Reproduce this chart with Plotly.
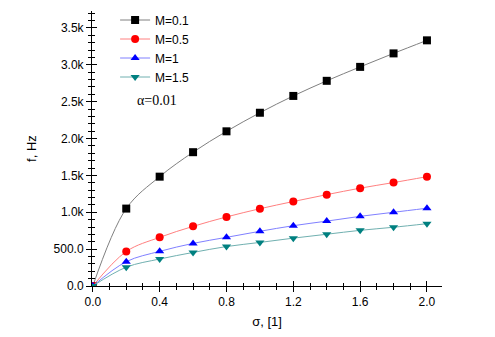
import plotly.graph_objects as go

sigma = [0.0, 0.2, 0.4, 0.6, 0.8, 1.0, 1.2, 1.4, 1.6, 1.8, 2.0]
f_m01 = [0, 1050, 1483, 1815, 2098, 2350, 2578, 2783, 2972, 3155, 3332]
f_m05 = [0, 468, 660, 809, 937, 1048, 1146, 1239, 1327, 1403, 1483]
f_m1 = [0, 330, 470, 578, 660, 742, 818, 880, 945, 1000, 1055]
f_m15 = [0, 255, 366, 455, 535, 591, 649, 702, 755, 797, 845]

names = ["M=0.1", "M=0.5", "M=1", "M=1.5"]
marker_colors = ["#000000", "#ff0000", "#0000ff", "#008080"]
line_colors = ["#808080", "#ff8080", "#8080ff", "#70b0b0"]
symbols = ["square", "circle", "triangle-up", "triangle-down"]
series = [f_m01, f_m05, f_m1, f_m15]

x_tickvals = [0.0, 0.4, 0.8, 1.2, 1.6, 2.0]
x_ticktext = ["0.0", "0.4", "0.8", "1.2", "1.6", "2.0"]
y_tickvals = [0, 500, 1000, 1500, 2000, 2500, 3000, 3500]
y_ticktext = ["0.0", "500.0", "1.0k", "1.5k", "2.0k", "2.5k", "3.0k", "3.5k"]

fig = go.Figure()
for n, ys, mc, lc, sym in zip(names, series, marker_colors, line_colors, symbols):
    fig.add_trace(go.Scatter(
        x=sigma, y=ys, name=n, mode="lines+markers",
        line=dict(color=lc, width=1, shape="spline", smoothing=1.0),
        marker=dict(color=mc, symbol=sym, size=8),
    ))

xr = [-0.005, 2.09]
yr = [0, 3730]
font_family = "Liberation Sans, Arial, sans-serif"

fig.update_layout(
    width=495, height=337,
    margin=dict(l=92, r=53, t=5, b=51),
    plot_bgcolor="white", paper_bgcolor="white",
    font=dict(family=font_family, size=12, color="black"),
    showlegend=True,
    legend=dict(x=0.066, y=1.02, xanchor="left", yanchor="top",
                bgcolor="rgba(0,0,0,0)", font=dict(size=12), itemwidth=30),
    xaxis=dict(range=xr, showgrid=False, zeroline=False, showline=True,
               linecolor="black", linewidth=1, ticks="outside", ticklen=5,
               tickwidth=1, tickcolor="black",
               tickvals=x_tickvals, ticktext=x_ticktext,
               minor=dict(dtick=0.1, tick0=0, ticks="outside", ticklen=3, tickcolor="black"),
               title=dict(text="σ, [1]", standoff=8, font=dict(size=13))),
    yaxis=dict(range=yr, showgrid=False, zeroline=False, showline=True,
               linecolor="black", linewidth=1, ticks="outside", ticklen=5,
               tickwidth=1, tickcolor="black",
               tickvals=y_tickvals, ticktext=y_ticktext,
               minor=dict(dtick=100, tick0=0, ticks="outside", ticklen=3, tickcolor="black"),
               title=dict(text="f, Hz", standoff=14, font=dict(size=13))),
    xaxis2=dict(range=xr, overlaying="x", anchor="y", side="bottom",
                showgrid=False, zeroline=False, showline=False,
                ticks="inside", ticklen=5, tickcolor="black",
                tickvals=x_tickvals, showticklabels=False,
                minor=dict(dtick=0.1, tick0=0, ticks="inside", ticklen=3, tickcolor="black")),
    yaxis2=dict(range=yr, overlaying="y", anchor="x", side="left",
                showgrid=False, zeroline=False, showline=False,
                ticks="inside", ticklen=5, tickcolor="black",
                tickvals=y_tickvals, showticklabels=False,
                minor=dict(dtick=100, tick0=0, ticks="inside", ticklen=3, tickcolor="black")),
)
# invisible trace to activate the overlay axes used for crossing ticks
fig.add_trace(go.Scatter(x=[None], y=[None], xaxis="x2", yaxis="y2",
                         showlegend=False, hoverinfo="skip"))

fig.add_annotation(text="α=0.01", x=0.122, y=0.675, xref="paper", yref="paper",
                   xanchor="left", yanchor="middle", showarrow=False,
                   font=dict(family="Liberation Serif, Times New Roman, serif", size=14))

fig.write_html("out.html", config={"displayModeBar": False},
               post_script="document.body.style.margin='0';")
